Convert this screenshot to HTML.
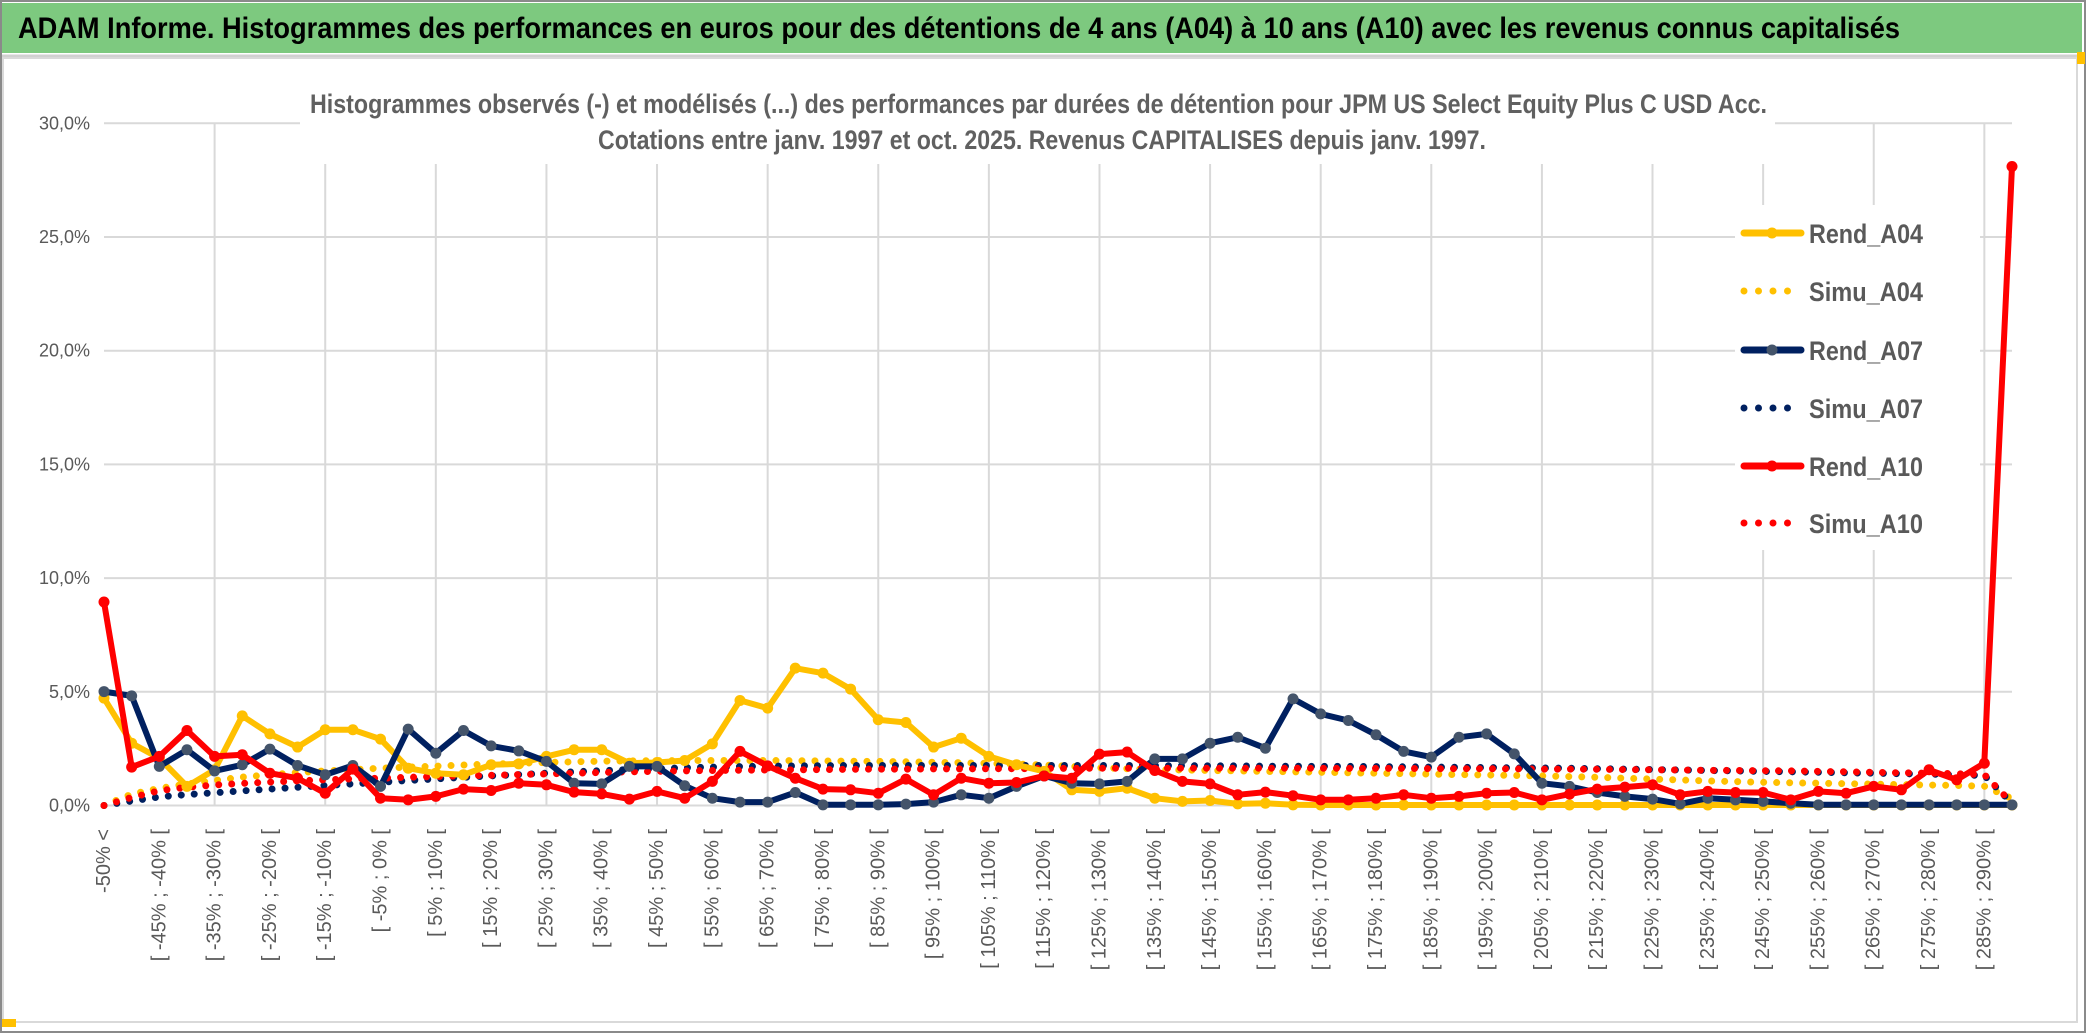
<!DOCTYPE html>
<html><head><meta charset="utf-8"><style>
html,body{margin:0;padding:0;background:#fff;}
svg{display:block;font-family:"Liberation Sans",sans-serif;}
</style></head><body>
<svg id="chart" width="2086" height="1033" viewBox="0 0 2086 1033" xmlns="http://www.w3.org/2000/svg">
<rect x="0" y="0" width="2086" height="1033" fill="#fff"/>
<rect x="1" y="1" width="2084" height="1031" fill="none" stroke="#8a8a8a" stroke-width="2"/>
<rect x="2" y="3" width="2080" height="50" fill="#7dc97f"/>
<text x="18" y="38" font-size="30" font-weight="bold" fill="#000" textLength="1882" lengthAdjust="spacingAndGlyphs">ADAM Informe. Histogrammes des performances en euros pour des détentions de 4 ans (A04) à 10 ans (A10) avec les revenus connus capitalisés</text>
<line x1="2" y1="56" x2="2080" y2="56" stroke="#d0d0d0" stroke-width="3"/>
<rect x="3" y="58" width="2074" height="964" fill="none" stroke="#d9d9d9" stroke-width="2"/>
<rect x="2077" y="52" width="8" height="12" fill="#ffc000"/>
<rect x="2" y="1019" width="14" height="8" fill="#ffc000"/>
<g id="grid"></g>
<rect x="300" y="60" width="1475" height="104" fill="#fff"/>
<text x="310" y="113" font-size="27" font-weight="bold" fill="#606060" textLength="1457" lengthAdjust="spacingAndGlyphs">Histogrammes observés (-) et modélisés (...) des performances par durées de détention pour JPM US Select Equity Plus C USD Acc.</text>
<text x="598" y="149" font-size="27" font-weight="bold" fill="#606060" textLength="888" lengthAdjust="spacingAndGlyphs">Cotations entre janv. 1997 et oct. 2025. Revenus CAPITALISES depuis janv. 1997.</text>
<g id="yaxis"></g>
<g id="xaxis"></g>
<g id="series"></g>
<g id="legend"></g>
</svg>
<script>
const categoriesCount = 70;
const yTicks = [0, 5, 10, 15, 20, 25, 30];
const yTickLabels = ["0,0%", "5,0%", "10,0%", "15,0%", "20,0%", "25,0%", "30,0%"];
const rendA04 = [4.72,2.74,2.08,0.84,1.57,3.94,3.15,2.57,3.33,3.33,2.92,1.64,1.42,1.35,1.79,1.83,2.16,2.45,
2.45,1.86,1.89,1.98,2.71,4.62,4.28,6.04,5.82,5.12,3.77,3.65,2.57,2.96,2.16,1.79,1.5,0.69,
0.62,0.76,0.32,0.18,0.22,0.07,0.1,0.03,
0.02,0.02,0.02,0.02,0.02,0.02,0.02,0.02,0.02,0.02,0.02,0.02,0.02,0.02,0.02,0.02,0.02,0.02,0.02,0.02,0.02,0.02,0.02,0.02,0.02,0.02];
const rendA07 = [5.01,4.82,1.72,2.45,1.52,1.79,2.48,1.76,1.35,1.76,0.84,3.36,2.3,3.3,2.62,2.4,1.94,0.98,
0.95,1.72,1.72,0.87,0.32,0.15,0.15,0.57,0.03,0.03,0.03,0.06,0.15,0.47,0.32,0.84,1.3,
0.98,0.95,1.06,2.05,2.05,2.74,3.0,2.52,4.69,4.03,3.74,3.11,2.38,2.13,3.0,3.15,2.27,0.98,0.84,
0.57,0.4,0.28,0.07,0.32,0.25,0.18,0.1,0.03,0.03,0.03,0.03,0.03,0.03,0.03,0.03];
const rendA10 = [8.95,1.69,2.16,3.3,2.16,2.23,1.42,1.2,0.54,1.6,0.32,0.25,0.4,0.72,0.66,0.98,0.91,0.59,
0.51,0.28,0.62,0.32,1.06,2.38,1.74,1.2,0.72,0.69,0.54,1.16,0.47,1.2,0.98,1.01,1.3,
1.2,2.26,2.35,1.54,1.06,0.95,0.47,0.59,0.43,0.25,0.25,0.32,0.47,0.32,0.4,0.54,0.57,
0.25,0.5,0.72,0.81,0.91,0.47,0.62,0.57,0.57,0.25,0.62,0.54,0.84,0.69,1.57,1.13,1.86,28.1];
const simuA04 = [0.0,0.5,0.75,0.95,1.1,1.25,1.35,1.45,1.52,1.58,
1.64,1.69,1.73,1.78,1.82,1.86,1.89,1.92,1.95,1.96,
1.97,1.98,1.98,1.98,1.98,1.97,1.96,1.95,1.94,1.92,
1.9,1.88,1.85,1.82,1.78,1.72,1.66,1.62,1.58,1.56,
1.54,1.52,1.5,1.48,1.46,1.44,1.42,1.4,1.38,1.36,
1.34,1.32,1.3,1.27,1.24,1.2,1.16,1.12,1.08,1.05,
1.02,1.0,0.98,0.96,0.94,0.92,0.9,0.88,0.85,0.3];
const simuA07 = [0,0.2,0.38,0.48,0.56,0.64,0.72,0.8,0.88,0.95,
1.02,1.1,1.17,1.24,1.3,1.36,1.42,1.48,1.53,1.58,
1.62,1.66,1.69,1.71,1.73,1.74,1.75,1.76,1.76,1.76,
1.76,1.76,1.76,1.76,1.76,1.76,1.76,1.76,1.75,1.75,
1.74,1.74,1.73,1.73,1.72,1.72,1.71,1.7,1.69,1.68,
1.67,1.66,1.65,1.64,1.62,1.6,1.58,1.56,1.54,1.52,
1.5,1.48,1.46,1.44,1.42,1.4,1.38,1.35,1.32,0.1];
const simuA10 = [0,0.35,0.65,0.8,0.9,0.97,1.03,1.08,1.13,1.17,
1.2,1.24,1.27,1.3,1.33,1.36,1.39,1.42,1.45,1.48,
1.5,1.52,1.54,1.55,1.56,1.57,1.58,1.59,1.6,1.6,
1.61,1.61,1.62,1.62,1.63,1.63,1.64,1.64,1.64,1.64,
1.64,1.64,1.64,1.64,1.64,1.63,1.63,1.63,1.62,1.62,
1.62,1.61,1.6,1.6,1.59,1.58,1.57,1.56,1.55,1.54,
1.53,1.52,1.5,1.48,1.46,1.44,1.42,1.4,1.36,0.1];

const NS = "http://www.w3.org/2000/svg";
const X0 = 104, X1 = 2012, Y0 = 805.5, YTOP = 123.3, YMAX = 30;
function xPos(i){ return X0 + i * (X1 - X0) / (categoriesCount - 1); }
function yPos(v){ return Y0 - v * (Y0 - YTOP) / YMAX; }
function catLabel(i){
  if (i === 0) return "-50% <";
  if (i === categoriesCount - 1) return "> 290%";
  return "[ " + (-55 + 5*i) + "% ; " + (-50 + 5*i) + "% [";
}
function mk(tag, attrs, parent){
  const e = document.createElementNS(NS, tag);
  for (const k in attrs) e.setAttribute(k, attrs[k]);
  parent.appendChild(e);
  return e;
}
const grid = document.getElementById("grid");
const yaxis = document.getElementById("yaxis");
const xaxis = document.getElementById("xaxis");
const series = document.getElementById("series");
const legend = document.getElementById("legend");

yTicks.forEach((t, k) => {
  const ln = mk("line", {x1: X0, x2: X1, y1: yPos(t), y2: yPos(t), stroke: "#d9d9d9", "stroke-width": 2}, grid);
  
  
  const tx = mk("text", {x: 90, y: yPos(t) + 6, "text-anchor": "end", "font-size": 18, fill: "#595959"}, yaxis);
  tx.textContent = yTickLabels[k];
  
  
});
for (let i = 4; i < categoriesCount; i += 4) {
  const ln = mk("line", {x1: xPos(i), x2: xPos(i), y1: YTOP, y2: Y0, stroke: "#d9d9d9", "stroke-width": 2}, grid);
  
  
}
for (let i = 0; i < categoriesCount; i += 2) {
  const x = xPos(i) + 6, y = 829;
  const tx = mk("text", {x: x, y: y, "text-anchor": "end", "font-size": 20, fill: "#595959", transform: "rotate(-90 " + x + " " + y + ")"}, xaxis);
  tx.textContent = catLabel(i);
  
  
}

function pathD(arr){ return arr.map((v,i)=>(i?"L":"M")+xPos(i).toFixed(1)+" "+yPos(v).toFixed(1)).join(" "); }
function dotted(arr, color, name){
  const p = mk("path", {d: pathD(arr), fill: "none", stroke: color, "stroke-width": 7, "stroke-linecap": "round", "stroke-dasharray": "0 13"}, series);
  
  
}
function solid(arr, color, markerColor, name){
  const g = mk("g", {}, series);
  
  
  mk("path", {d: pathD(arr), fill: "none", stroke: color, "stroke-width": 6, "stroke-linejoin": "round"}, g);
  arr.forEach((v,i) => {
    const c = mk("circle", {cx: xPos(i), cy: yPos(v), r: 5.5, fill: markerColor}, g);
    
    
  });
}
dotted(simuA04, "#ffc000", "simu-a04-line");
dotted(simuA07, "#002060", "simu-a07-line");
dotted(simuA10, "#ff0000", "simu-a10-line");
solid(rendA04, "#ffc000", "#ffc000", "rend-a04-line");
solid(rendA07, "#002060", "#44546a", "rend-a07-line");
solid(rendA10, "#ff0000", "#ff0000", "rend-a10-line");

// legend
const lb = mk("rect", {x: 1735, y: 205, width: 245, height: 345, fill: "#fff"}, legend);


const legNames = ["Rend_A04","Simu_A04","Rend_A07","Simu_A07","Rend_A10","Simu_A10"];
const legColors = ["#ffc000","#ffc000","#002060","#002060","#ff0000","#ff0000"];
const legMarkers = ["#ffc000",null,"#44546a",null,"#ff0000",null];
const legY = [233,291,350,408,466,523];
legNames.forEach((nm, k) => {
  const g = mk("g", {}, legend);
  
  
  const y = legY[k];
  if (legMarkers[k]) {
    mk("line", {x1: 1744, x2: 1801, y1: y, y2: y, stroke: legColors[k], "stroke-width": 7, "stroke-linecap": "round"}, g);
    mk("circle", {cx: 1772, cy: y, r: 5.5, fill: legMarkers[k]}, g);
  } else {
    mk("line", {x1: 1744, x2: 1801, y1: y, y2: y, stroke: legColors[k], "stroke-width": 7, "stroke-linecap": "round", "stroke-dasharray": "0 14.5"}, g);
  }
  const tx = mk("text", {x: 1809, y: y + 10, "font-size": 27, "font-weight": "bold", fill: "#595959", textLength: 114, lengthAdjust: "spacingAndGlyphs"}, g);
  tx.textContent = nm;
});
</script>
</body></html>
